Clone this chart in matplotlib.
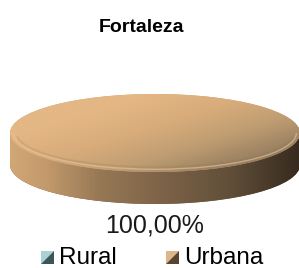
import matplotlib
matplotlib.use("Agg")
import matplotlib.pyplot as plt
import numpy as np
from matplotlib.colors import LinearSegmentedColormap
from matplotlib.patches import Rectangle, Polygon, Arc

plt.rcParams['font.family'] = ['Liberation Sans', 'DejaVu Sans']

title = "Fortaleza"
categories = ["Rural", "Urbana"]
values = [0.0, 100.0]
base_colors = ["#7fb3b8", "#cfa577"]
light_colors = ["#a9d2d6", "#dcb588"]
dark_colors = ["#3c5558", "#5a4330"]

W, H = 299, 268
fig = plt.figure(figsize=(W / 100, H / 100), dpi=100)

# pie axes in pixel box: x 10..300, y 94..204 ; top face half-height 39px
px0, px1, py0, py1 = 10, 300, 94, 204
ry = 39.0
d = (py1 - py0 - 2 * ry) / ry
ax = fig.add_axes([px0 / W, 1 - py1 / H, (px1 - px0) / W, (py1 - py0) / H])

ext = (-1, 1, -1 - d, 1)
xx, yy = np.meshgrid(np.linspace(-1, 1, 300), np.linspace(1, -1 - d, 120))

# side (extrusion)
side_cmap = LinearSegmentedColormap.from_list(
    "side", [(0, "#d2a776"), (0.12, "#c39a6c"), (0.31, "#967855"),
             (0.55, "#7a6046"), (0.75, "#62503a"), (1, "#372a1e")])
side_w = ax.pie(values, colors=base_colors, radius=1, center=(0, -d),
                startangle=90, counterclock=False,
                wedgeprops=dict(linewidth=0))[0]
rect = Rectangle((-1, -d), 2, d, facecolor="#8a6a49", linewidth=0)
ax.add_patch(rect)
for i, w in enumerate(side_w):
    if values[i] <= 0:
        continue
    w.set_facecolor("#7a6046")
    im = ax.imshow((xx + 1) / 2, cmap=side_cmap, extent=ext, aspect='auto',
                   vmin=0, vmax=1, interpolation='bilinear', zorder=2)
    im.set_clip_path(w)
im = ax.imshow((xx + 1) / 2, cmap=side_cmap, extent=ext, aspect='auto',
               vmin=0, vmax=1, interpolation='bilinear', zorder=2)
im.set_clip_path(rect)

# top face
top_cmap = LinearSegmentedColormap.from_list(
    "top", [(0, "#e4b784"), (0.3, "#d9ad7b"), (0.6, "#bf9d72"), (1, "#877359")])
top_w = ax.pie(values, colors=base_colors, radius=1, center=(0, 0),
               startangle=90, counterclock=False,
               wedgeprops=dict(linewidth=0))[0]
g = np.clip((xx * 0.65 - yy * 0.55 + 0.6) / 1.6, 0, 1)
for i, w in enumerate(top_w):
    if values[i] <= 0:
        continue
    w.set_zorder(3)
    w.set_facecolor("#c9a275")
    im = ax.imshow(g, cmap=top_cmap, extent=ext, aspect='auto',
                   vmin=0, vmax=1, interpolation='bilinear', zorder=4)
    im.set_clip_path(w)

# bevel along the front rim
ax.add_patch(Arc((0, 0), 1.95, 1.86, theta1=180, theta2=360,
                 color="#e8c49a", lw=1.0, alpha=0.6, zorder=5))
ax.add_patch(Arc((0, 0), 1.91, 1.76, theta1=185, theta2=355,
                 color="#8c7052", lw=1.5, alpha=0.18, zorder=5))

ax.set_aspect('auto')
ax.set_xlim(-1, 1)
ax.set_ylim(-1 - d, 1)
ax.axis('off')

# overlay for text and legend, pixel coords
ov = fig.add_axes([0, 0, 1, 1], zorder=10)
ov.set_xlim(0, W)
ov.set_ylim(H, 0)
ov.axis('off')
ov.patch.set_alpha(0)

ov.text(141, 32, title, ha='center', va='baseline', fontsize=14,
        fontweight='bold', color='black')

total = sum(values)
for i, v in enumerate(values):
    if v <= 0:
        continue
    lab = f"{100 * v / total:.2f}".replace('.', ',') + "%"
    ov.text(155, 232, lab, ha='center', va='baseline', fontsize=18, color='#1a1a1a')

leg_x = [41, 166]
for i, c in enumerate(categories):
    x0, y0, s = leg_x[i], 251, 13
    ov.add_patch(Polygon([(x0, y0), (x0 + s, y0), (x0, y0 + s)], closed=True,
                         facecolor=light_colors[i], linewidth=0))
    ov.add_patch(Polygon([(x0 + s, y0), (x0 + s, y0 + s), (x0, y0 + s)], closed=True,
                         facecolor=dark_colors[i], linewidth=0))
    ov.text(x0 + s + 5, 263.5, c, ha='left', va='baseline',
            fontsize=17.5, color='black')

fig.savefig("out.png", dpi=100)
